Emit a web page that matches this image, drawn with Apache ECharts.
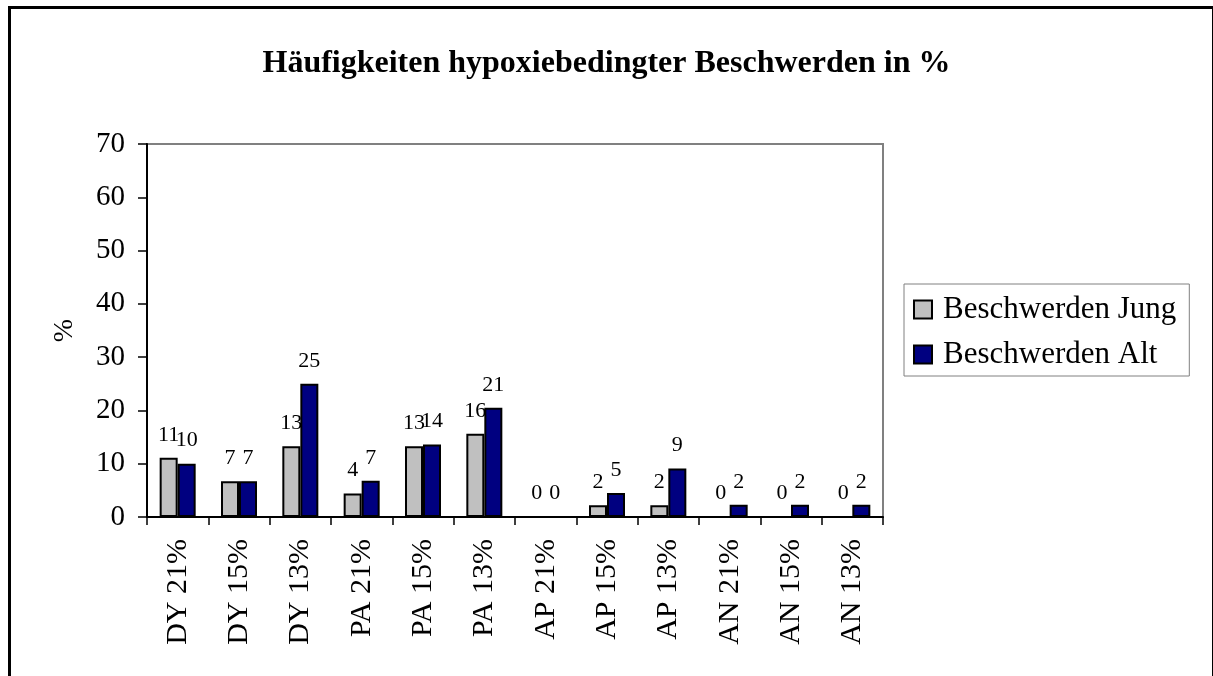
<!DOCTYPE html>
<html>
<head>
<meta charset="utf-8">
<script src="https://cdn.jsdelivr.net/npm/echarts@6/dist/echarts.min.js"></script>
<style>
	html, body { margin: 0; padding: 0; background: #fff; }
	#main { width: 1213px; height: 676px; }
</style>
</head>
<body>
<div id="main"></div>
<script>
var categories = ['DY 21%', 'DY 15%', 'DY 13%', 'PA 21%', 'PA 15%', 'PA 13%', 'AP 21%', 'AP 15%', 'AP 13%', 'AN 21%', 'AN 15%', 'AN 13%'];
var jungData = [11.1, 6.7, 13.3, 4.4, 13.3, 15.6, 0, 2.2, 2.2, 0, 0, 0];
var altData = [10.0, 6.7, 25.0, 6.8, 13.6, 20.5, 0, 4.5, 9.1, 2.3, 2.3, 2.3];
var yTicks = { min: 0, max: 70, interval: 10 };

var serif = '"Liberation Serif", "DejaVu Serif", serif';
var chart = echarts.init(document.getElementById('main'));

function barSeries(name, color, data) {
	return {
		name: name,
		type: 'bar',
		barWidth: 18,
		barGap: '0%',
		data: data,
		itemStyle: {
			color: color,
			borderColor: '#000',
			borderWidth: 2
		},
		label: {
			show: true,
			position: 'top',
			distance: 12,
			color: '#000',
			fontFamily: serif,
			fontSize: 22,
			formatter: function(p) {
				return Math.round(p.value);
			}
		}
	};
}

var option = {
	backgroundColor: '#fff',
	animation: false,
	title: {
		text: 'Häufigkeiten hypoxiebedingter Beschwerden in %',
		left: 'center',
		top: 43,
		textStyle: {
			fontFamily: serif,
			fontWeight: 'bold',
			fontSize: 32,
			color: '#000'
		}
	},
	legend: {
		orient: 'vertical',
		left: 904,
		top: 284,
		padding: [10, 13, 6, 9],
		itemGap: 14,
		itemWidth: 18,
		itemHeight: 18,
		icon: 'rect',
		borderColor: '#808080',
		borderWidth: 1,
		textStyle: {
			fontFamily: serif,
			fontSize: 31,
			color: '#000',
			padding: [0, 0, 0, 6]
		},
		itemStyle: {
			borderColor: '#000',
			borderWidth: 2
		}
	},
	grid: {
		left: 147,
		top: 144,
		right: 330,
		bottom: 159,
		show: true,
		borderColor: '#808080',
		borderWidth: 2,
		containLabel: false
	},
	xAxis: {
		type: 'category',
		data: categories,
		boundaryGap: true,
		axisLine: { lineStyle: { color: '#000', width: 2 } },
		axisTick: { show: true, length: 8, lineStyle: { color: '#000', width: 1.5 } },
		axisLabel: {
			rotate: 90,
			margin: 22,
			interval: 0,
			color: '#000',
			fontFamily: serif,
			fontSize: 30
		}
	},
	yAxis: {
		type: 'value',
		min: yTicks.min,
		max: yTicks.max,
		interval: yTicks.interval,
		name: '%',
		nameLocation: 'middle',
		nameGap: 68,
		nameRotate: 90,
		nameTextStyle: {
			fontFamily: serif,
			fontSize: 28,
			color: '#000'
		},
		splitLine: { show: false },
		axisLine: { show: true, lineStyle: { color: '#000', width: 2 } },
		axisTick: { show: true, length: 9, lineStyle: { color: '#000', width: 1.5 } },
		axisLabel: {
			margin: 22,
			color: '#000',
			fontFamily: serif,
			fontSize: 29
		}
	},
	graphic: [{
		type: 'rect',
		left: 7,
		top: 5,
		shape: { width: 1204, height: 700 },
		style: { fill: 'none', stroke: '#000', lineWidth: 3 },
		silent: true
	}],
	series: [
		barSeries('Beschwerden Jung', '#c0c0c0', jungData),
		barSeries('Beschwerden Alt', '#000080', altData)
	]
};
chart.setOption(option);
</script>
</body>
</html>
